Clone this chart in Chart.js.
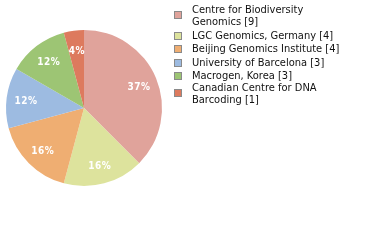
<!DOCTYPE html>
<html>
<head>
<meta charset="utf-8">
<script src="https://cdn.jsdelivr.net/npm/chart.js@4/dist/chart.umd.min.js"></script>
<style>
  html, body { margin: 0; padding: 0; background: #fff; }
  #wrap { position: relative; width: 380px; height: 240px; overflow: hidden; }
  #c { position: absolute; left: 0; top: 0; }
  #legend { position: absolute; left: 174px; top: 0; margin: 0; padding: 0; list-style: none;
    font-family: "DejaVu Sans Condensed", "DejaVu Sans", sans-serif; font-stretch: condensed; font-size: 11px; color: #111; }
  #legend li { position: absolute; left: 0; padding-left: 18px; line-height: 12px; width: 150px; white-space: normal; }
  #legend .box { position: absolute; left: 0; width: 6px; height: 6px; border: 1px solid #8a8a8a; }
</style>
</head>
<body>
<div id="wrap">
  <canvas id="c" width="380" height="240"></canvas>
  <ul id="legend"></ul>
</div>
<script>
const labels = ["Centre for Biodiversity Genomics", "LGC Genomics, Germany", "Beijing Genomics Institute", "University of Barcelona", "Macrogen, Korea", "Canadian Centre for DNA Barcoding"];
const counts = [9, 4, 4, 3, 3, 1];
const colors = ["#e0a39b", "#dde39d", "#efae72", "#9dbbe1", "#9dc574", "#dd7a5e"];

const total = counts.reduce((a, b) => a + b, 0);

const pctLabels = {
  id: 'pctLabels',
  afterDatasetsDraw(chart) {
    const ctx = chart.ctx;
    const meta = chart.getDatasetMeta(0);
    ctx.save();
    ctx.fillStyle = '#fff';
    ctx.font = 'bold 10px "DejaVu Sans Condensed", "DejaVu Sans", sans-serif';
    ctx.textAlign = 'center';
    ctx.textBaseline = 'middle';
    try { ctx.letterSpacing = '0.5px'; } catch (e) {}
    meta.data.forEach((arc, i) => {
      const mid = (arc.startAngle + arc.endAngle) / 2;
      const r = arc.outerRadius * 0.755;
      const x = arc.x + Math.cos(mid) * r;
      const y = arc.y + Math.sin(mid) * r;
      const pct = Math.floor(counts[i] / total * 100);
      ctx.fillText(pct + '%', x + 0.5, y + 1.5);
    });
    ctx.restore();
  }
};

new Chart(document.getElementById('c'), {
  type: 'pie',
  data: {
    labels: labels,
    datasets: [{ data: counts, backgroundColor: colors, borderWidth: 0 }]
  },
  options: {
    responsive: false,
    animation: false,
    layout: { padding: { left: 6, top: 30, right: 218, bottom: 54 } },
    plugins: { legend: { display: false }, tooltip: { enabled: false } }
  },
  plugins: [pctLabels]
});

const itemTops = [3.5, 30, 43.3, 56.7, 70, 82];
const ul = document.getElementById('legend');
labels.forEach((l, i) => {
  const li = document.createElement('li');
  li.style.top = itemTops[i] + 'px';
  const b = document.createElement('span');
  b.className = 'box';
  b.style.background = colors[i];
  li.appendChild(b);
  li.appendChild(document.createTextNode(l + ' [' + counts[i] + ']'));
  ul.appendChild(li);
  const lines = Math.round(li.getBoundingClientRect().height / 12);
  b.style.top = (lines > 1 ? 7 : 2) + 'px';
});
</script>
</body>
</html>
